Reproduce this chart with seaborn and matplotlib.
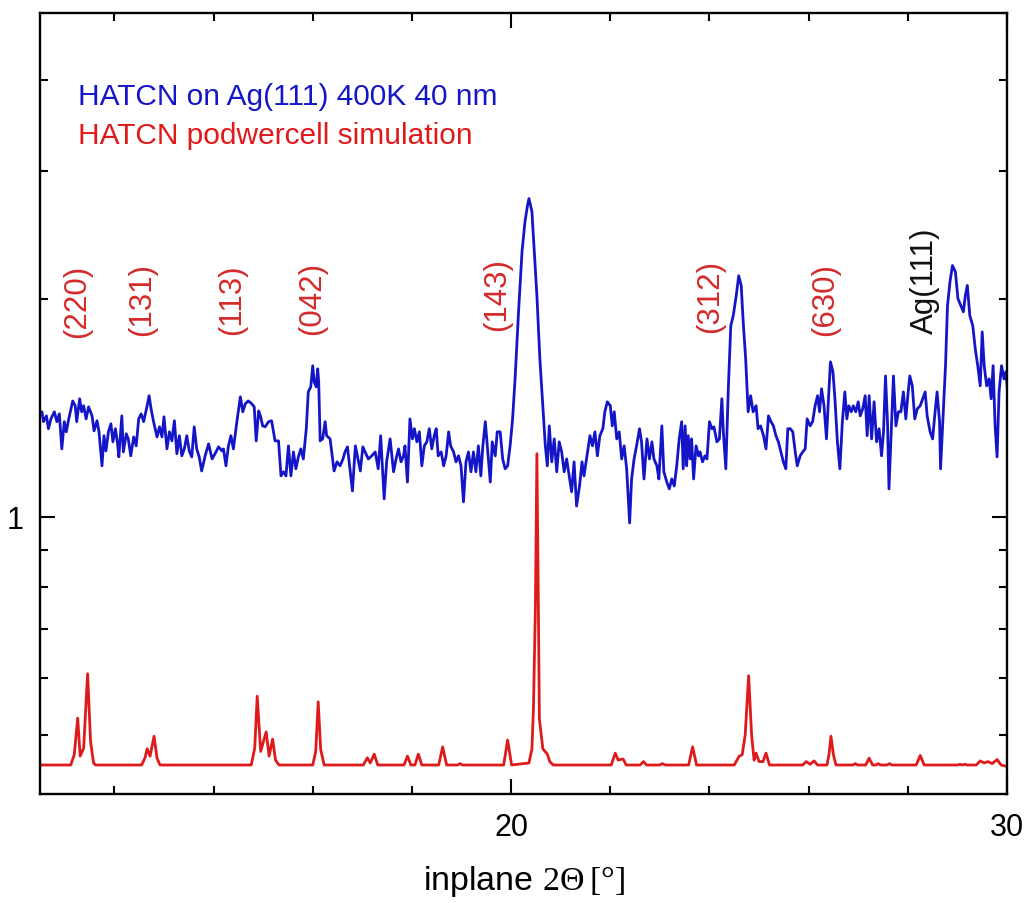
import matplotlib
matplotlib.use("Agg")
import matplotlib.pyplot as plt
from matplotlib.ticker import FixedLocator, NullFormatter, FixedFormatter
import seaborn as sns
import pandas as pd

# --- measured in-plane scan (2theta in degrees, intensity in arb. units) ---
scan_2theta = [
    10.54, 10.57, 10.63, 10.67, 10.72, 10.79, 10.84, 10.89, 10.94, 10.99,
    11.03, 11.08, 11.16, 11.21, 11.24, 11.30, 11.34, 11.38, 11.43, 11.48,
    11.55, 11.59, 11.65, 11.69, 11.75, 11.79, 11.83, 11.88, 11.93, 11.97,
    12.02, 12.06, 12.09, 12.15, 12.18, 12.24, 12.28, 12.33, 12.39, 12.44,
    12.49, 12.54, 12.59, 12.66, 12.70, 12.74, 12.79, 12.86, 12.91, 12.96,
    13.00, 13.06, 13.11, 13.16, 13.21, 13.26, 13.31, 13.36, 13.41, 13.46,
    13.51, 13.56, 13.61, 13.66, 13.71, 13.76, 13.83, 13.90, 13.97, 14.03,
    14.10, 14.17, 14.20, 14.25, 14.30, 14.35, 14.40, 14.47, 14.54, 14.59,
    14.64, 14.70, 14.77, 14.82, 14.86, 14.91, 14.95, 14.99, 15.04, 15.11,
    15.17, 15.24, 15.31, 15.36, 15.41, 15.46, 15.51, 15.56, 15.61, 15.66,
    15.71, 15.76, 15.81, 15.87, 15.91, 15.96, 16.00, 16.03, 16.07, 16.10,
    16.12, 16.15, 16.20, 16.25, 16.28, 16.35, 16.43, 16.49, 16.55, 16.61,
    16.65, 16.70, 16.75, 16.80, 16.86, 16.90, 16.96, 17.01,
    17.12, 17.19, 17.26, 17.32, 17.37, 17.44, 17.49, 17.56, 17.63, 17.68,
    17.73, 17.78, 17.83, 17.86, 17.91, 17.96, 18.01, 18.05, 18.10, 18.15,
    18.20, 18.25, 18.30, 18.35, 18.40, 18.45, 18.49, 18.53, 18.59, 18.64,
    18.69, 18.74, 18.78, 18.84, 18.89, 18.94, 18.99, 19.04, 19.09, 19.14,
    19.19, 19.24, 19.29, 19.34, 19.39, 19.43, 19.48, 19.52, 19.58, 19.62,
    19.68, 19.72, 19.78, 19.83, 19.88, 19.93, 19.98, 20.03, 20.08, 20.15,
    20.22, 20.28, 20.33, 20.36, 20.42, 20.46, 20.52, 20.58, 20.64, 20.69,
    20.73, 20.77, 20.82, 20.87, 20.92, 20.97, 21.02, 21.07, 21.12, 21.18,
    21.22, 21.27, 21.32, 21.38, 21.43, 21.47, 21.53, 21.59, 21.64, 21.69,
    21.74, 21.79, 21.85, 21.89, 21.94, 22.00, 22.04, 22.08, 22.13, 22.18,
    22.23, 22.28, 22.33, 22.39, 22.43, 22.48, 22.53, 22.59, 22.63, 22.68,
    22.74, 22.79, 22.84, 22.88, 22.94, 22.98, 23.04, 23.08, 23.14, 23.19,
    23.24, 23.29, 23.34, 23.39, 23.44, 23.47, 23.51, 23.54, 23.57, 23.61,
    23.64, 23.68, 23.73, 23.78,
    23.81, 23.86, 23.91, 23.95, 24.00, 24.05, 24.09, 24.15, 24.20, 24.25,
    24.28, 24.33, 24.38, 24.43, 24.48, 24.54, 24.59, 24.64, 24.68, 24.73,
    24.78, 24.83, 24.88, 24.94, 24.98, 25.03, 25.09, 25.14, 25.19, 25.24,
    25.29, 25.34, 25.39, 25.44, 25.49, 25.54, 25.58, 25.63, 25.68, 25.73,
    25.77, 25.83, 25.88, 25.93, 25.97, 26.03, 26.08, 26.13, 26.18, 26.22,
    26.26, 26.31, 26.36, 26.40, 26.44, 26.49, 26.53, 26.58, 26.63, 26.68,
    26.73, 26.77, 26.81, 26.86, 26.90, 26.95, 27.00, 27.04, 27.09, 27.14,
    27.18, 27.22, 27.27, 27.32, 27.37, 27.42, 27.47, 27.51, 27.55, 27.59,
    27.62, 27.66, 27.71, 27.76, 27.81, 27.86, 27.91, 27.96, 28.00, 28.04,
    28.09, 28.14, 28.19, 28.25, 28.30, 28.35, 28.39, 28.45, 28.50, 28.55,
    28.59, 28.64, 28.66, 28.72, 28.76, 28.80, 28.85, 28.90, 28.96, 29.01,
    29.07, 29.12, 29.16, 29.20, 29.25, 29.31, 29.36, 29.41, 29.46, 29.50,
    29.54, 29.59, 29.64, 29.68, 29.72, 29.76, 29.80, 29.84, 29.89, 29.94,
    29.98, 30.03,
]
scan_intensity = [
    1.396, 1.353, 1.378, 1.323, 1.365, 1.396, 1.353, 1.387, 1.241, 1.353,
    1.310, 1.365, 1.445, 1.423, 1.353, 1.455, 1.396, 1.423, 1.365, 1.418,
    1.378, 1.314, 1.357, 1.310, 1.176, 1.294, 1.233, 1.310, 1.344, 1.269,
    1.323, 1.269, 1.210, 1.378, 1.229, 1.302, 1.281, 1.214, 1.289, 1.253,
    1.365, 1.387, 1.353, 1.423, 1.469, 1.409, 1.353, 1.289, 1.331, 1.289,
    1.374, 1.241, 1.310, 1.273, 1.357, 1.222, 1.294, 1.214, 1.241, 1.294,
    1.233, 1.210, 1.331, 1.241, 1.210, 1.157, 1.214, 1.261, 1.202, 1.222,
    1.249, 1.233, 1.241, 1.176, 1.253, 1.294, 1.241, 1.353, 1.464, 1.396,
    1.432, 1.445, 1.432, 1.418, 1.273, 1.400, 1.374, 1.335, 1.331, 1.353,
    1.357, 1.273, 1.273, 1.139, 1.154, 1.139, 1.253, 1.139, 1.229, 1.165,
    1.210, 1.241, 1.202, 1.323, 1.487, 1.511, 1.616, 1.535, 1.511, 1.600,
    1.535, 1.273, 1.281, 1.353, 1.294, 1.281, 1.157, 1.191, 1.176, 1.202,
    1.229, 1.249, 1.165, 1.086, 1.253, 1.214, 1.157, 1.249,
    1.202, 1.214, 1.229, 1.165, 1.294, 1.059, 1.191, 1.281, 1.154, 1.202,
    1.241, 1.191, 1.214, 1.253, 1.117, 1.365, 1.281, 1.323, 1.269, 1.310,
    1.176, 1.253, 1.269, 1.323, 1.241, 1.294, 1.323, 1.214, 1.229, 1.176,
    1.214, 1.310, 1.253, 1.229, 1.191, 1.214, 1.176, 1.049, 1.191, 1.229,
    1.154, 1.229, 1.154, 1.253, 1.139, 1.253, 1.353, 1.253, 1.117, 1.269,
    1.214, 1.310, 1.310, 1.202, 1.165, 1.176, 1.253, 1.365, 1.550, 1.917,
    2.321, 2.553, 2.686, 2.747, 2.635, 2.366, 2.019, 1.652, 1.423, 1.253,
    1.176, 1.335, 1.191, 1.281, 1.154, 1.269, 1.229, 1.154, 1.202, 1.128,
    1.083, 1.191, 1.035, 1.103, 1.191, 1.139, 1.214, 1.294, 1.253, 1.310,
    1.214, 1.294, 1.323, 1.396, 1.441, 1.423, 1.335, 1.396, 1.281, 1.310,
    1.202, 1.253, 1.165, 0.981, 1.128, 1.202, 1.253, 1.323, 1.269, 1.128,
    1.281, 1.202, 1.269, 1.202, 1.176, 1.128, 1.335, 1.154, 1.117, 1.093,
    1.128, 1.103, 1.176, 1.281, 1.353, 1.165, 1.335, 1.176, 1.294, 1.202,
    1.281, 1.128, 1.253, 1.214,
    1.229, 1.191, 1.214, 1.202, 1.353, 1.323, 1.331, 1.269, 1.281, 1.455,
    1.310, 1.165, 1.502, 1.834, 1.895, 2.019, 2.150, 2.085, 1.858, 1.652,
    1.396, 1.469, 1.396, 1.423, 1.323, 1.335, 1.294, 1.241, 1.378, 1.353,
    1.335, 1.294, 1.269, 1.229, 1.191, 1.165, 1.323, 1.323, 1.310, 1.229,
    1.176, 1.214, 1.229, 1.241, 1.365, 1.335, 1.353, 1.423, 1.469, 1.396,
    1.502, 1.423, 1.281, 1.455, 1.636, 1.585, 1.455, 1.269, 1.165, 1.353,
    1.487, 1.365, 1.423, 1.396, 1.423, 1.396, 1.441, 1.378, 1.409, 1.469,
    1.294, 1.469, 1.281, 1.441, 1.269, 1.323, 1.214, 1.310, 1.564, 1.353,
    1.093, 1.281, 1.564, 1.335, 1.396, 1.396, 1.487, 1.365, 1.469, 1.564,
    1.516, 1.365, 1.409, 1.423, 1.455, 1.487, 1.378, 1.310, 1.281, 1.396,
    1.487, 1.353, 1.165, 1.423, 1.616, 1.955, 2.109, 2.221, 2.177, 1.999,
    1.955, 1.917, 2.019, 2.085, 1.895, 1.834, 1.705, 1.616, 1.516, 1.799,
    1.616, 1.516, 1.550, 1.455, 1.616, 1.335, 1.210, 1.487, 1.616, 1.550,
    1.585, 1.441,
]

# --- PowderCell simulated pattern ---
sim_2theta = [
    10.50, 11.12, 11.19, 11.26, 11.31, 11.38, 11.46, 11.52, 11.58, 11.62,
    12.55, 12.62, 12.66, 12.72, 12.80, 12.86, 12.92,
    14.76, 14.83, 14.88, 14.95, 15.06, 15.12, 15.19, 15.25, 15.32,
    16.00, 16.06, 16.11, 16.16, 16.23,
    17.02, 17.10, 17.16, 17.24, 17.31,
    17.84, 17.91, 17.98, 18.06, 18.13, 18.20,
    18.54, 18.62, 18.70, 18.92, 18.97, 19.02,
    19.85, 19.93, 20.01,
    20.36, 20.42, 20.45, 20.49, 20.52, 20.55, 20.57, 20.64, 20.73, 20.78, 20.85,
    22.02, 22.10, 22.16, 22.20, 22.26, 22.32,
    22.60, 22.67, 22.73, 22.99, 23.05, 23.11,
    23.58, 23.66, 23.74,
    24.50, 24.60, 24.66, 24.72, 24.79, 24.85, 24.90, 24.94, 25.00, 25.08, 25.14, 25.21,
    25.88, 25.95, 26.03, 26.11, 26.18,
    26.37, 26.41, 26.45, 26.50, 26.55,
    26.89, 26.94, 26.99, 27.15, 27.22, 27.29, 27.35, 27.40, 27.45,
    27.58, 27.63, 27.68,
    28.17, 28.25, 28.33,
    29.00, 29.05, 29.10, 29.15, 29.20,
    29.38, 29.46, 29.54, 29.62, 29.70, 29.80, 29.88, 30.00,
]
sim_intensity = [
    0.455, 0.455, 0.470, 0.528, 0.468, 0.480, 0.608, 0.490, 0.458, 0.455,
    0.455, 0.466, 0.479, 0.468, 0.4985, 0.465, 0.455,
    0.455, 0.480, 0.566, 0.475, 0.5055, 0.468, 0.494, 0.462, 0.455,
    0.455, 0.475, 0.556, 0.478, 0.455,
    0.455, 0.4655, 0.458, 0.471, 0.455,
    0.455, 0.468, 0.455, 0.455, 0.471, 0.455,
    0.455, 0.482, 0.455, 0.455, 0.457, 0.455,
    0.455, 0.4925, 0.455,
    0.458, 0.479, 0.543, 0.750, 1.222, 0.750, 0.527, 0.479, 0.471, 0.460, 0.455,
    0.455, 0.4725, 0.462, 0.463, 0.4637, 0.455,
    0.455, 0.460, 0.455, 0.455, 0.457, 0.455,
    0.455, 0.482, 0.455,
    0.455, 0.468, 0.470, 0.500, 0.604, 0.500, 0.462, 0.4725, 0.460, 0.460, 0.4725, 0.455,
    0.455, 0.460, 0.456, 0.461, 0.455,
    0.455, 0.470, 0.4985, 0.470, 0.455,
    0.455, 0.457, 0.455, 0.455, 0.465, 0.455, 0.455, 0.457, 0.455,
    0.455, 0.457, 0.455,
    0.455, 0.469, 0.455,
    0.455, 0.456, 0.455, 0.456, 0.455,
    0.455, 0.461, 0.458, 0.460, 0.457, 0.463, 0.455, 0.453,
]

# --- reflection labels ---
hkl_labels = ["(220)", "(131)", "(113)", "(042)", "(143)", "(312)", "(630)", "Ag(111)"]
hkl_2theta = [11.25, 12.56, 14.37, 15.99, 19.72, 24.01, 26.33, 28.35]
hkl_level = [1.99, 2.00, 2.00, 2.01, 2.03, 2.02, 2.00, 2.12]
hkl_colors = ["#d42a2a"] * 7 + ["#111111"]

series_names = ["HATCN on Ag(111) 400K 40 nm", "HATCN podwercell simulation"]
series_colors = ["#1515c8", "#e01a1a"]

sns.set_theme(style="ticks")
plt.rcParams["font.family"] = ["Liberation Sans", "DejaVu Sans"]
plt.rcParams["mathtext.fontset"] = "custom"
plt.rcParams["mathtext.rm"] = "Liberation Serif"
plt.rcParams["text.color"] = "black"
plt.rcParams["axes.labelcolor"] = "black"

scan = pd.DataFrame({"two_theta": scan_2theta, "intensity": scan_intensity})
sim = pd.DataFrame({"two_theta": sim_2theta, "intensity": sim_intensity})

fig = plt.figure(figsize=(10.26, 9.04), dpi=100)
ax = fig.add_axes([40 / 1026, 1 - 795 / 904, 967 / 1026, 781 / 904])

sns.lineplot(data=scan, x="two_theta", y="intensity", ax=ax, color=series_colors[0],
             lw=2.0, estimator=None, sort=False)
sns.lineplot(data=sim, x="two_theta", y="intensity", ax=ax, color=series_colors[1],
             lw=2.0, estimator=None, sort=False)

ax.set_yscale("log")
ax.set_xlim(10.5, 30.0)
ax.set_ylim(0.415, 4.95)

ax.xaxis.set_major_locator(FixedLocator([20, 30]))
ax.xaxis.set_minor_locator(FixedLocator([12, 14, 16, 18, 22, 24, 26, 28]))
ax.yaxis.set_major_locator(FixedLocator([1]))
ax.yaxis.set_major_formatter(FixedFormatter(["1"]))
ax.yaxis.set_minor_locator(FixedLocator([0.5, 0.6, 0.7, 0.8, 0.9, 2, 3, 4]))
ax.yaxis.set_minor_formatter(NullFormatter())

ax.tick_params(which="both", direction="in", top=True, right=True, width=1.5,
               colors="black", labelcolor="black")
ax.tick_params(which="major", length=11, labelsize=22, pad=13)
ax.tick_params(which="minor", length=5.5)
ax.tick_params(axis="y", which="major", pad=12)
for side in ax.spines.values():
    side.set_linewidth(1.7)
    side.set_color("black")

ax.set_xlabel("inplane $\\mathrm{2\\Theta\\,[°]}$", fontsize=24.5, labelpad=15,
              color="black")
ax.set_ylabel("")

for lab, xpos, ypos, col in zip(hkl_labels, hkl_2theta, hkl_level, hkl_colors):
    ax.text(xpos, ypos, lab, rotation=90, ha="center", va="center",
            fontsize=22.5, color=col)

for i, (name, col) in enumerate(zip(series_names, series_colors)):
    fig.text(78 / 1026, 1 - (97 + 39 * i) / 904, name, color=col, fontsize=21.5,
             ha="left", va="center")

fig.savefig("out.png", dpi=100)
